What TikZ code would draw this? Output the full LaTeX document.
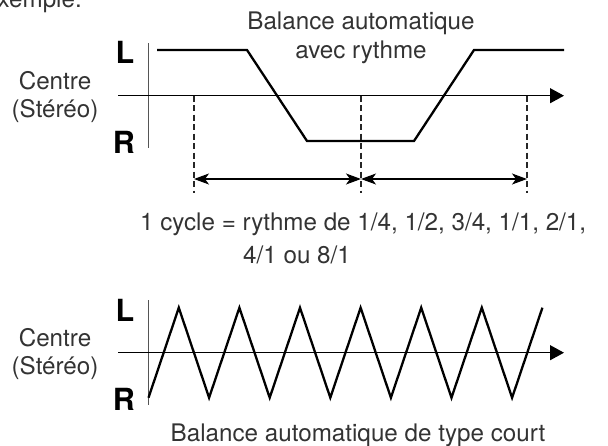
\documentclass[tikz,border=0pt]{standalone}
\usepackage{fontspec}
\setmainfont{TeX Gyre Heros}
\usetikzlibrary{arrows.meta}
\definecolor{txt}{HTML}{333333}
\definecolor{vax}{HTML}{555555}
\begin{document}
\begin{tikzpicture}[x=1pt,y=-1pt,
  lbl/.style={font=\fontsize{24.2}{28}\selectfont, text=txt, inner sep=0pt},
  lr/.style={font=\fontsize{30.5}{32}\selectfont\bfseries, inner sep=0pt},
  axis/.style={line width=1.2pt, -{Triangle[length=14pt,width=15pt]}},
  vaxis/.style={line width=1.5pt, draw=vax},
  sig/.style={line width=2.3pt, line join=miter},
  guide/.style={line width=1.3pt, draw=black!85, dash pattern=on 6pt off 3.5pt},
  span/.style={line width=1.2pt, {Stealth[length=15pt,width=11pt,inset=4pt]}-{Stealth[length=15pt,width=11pt,inset=4pt]}}]
\useasboundingbox (0,0) rectangle (608,445);

% ---------- top diagram ----------
\coordinate (ax1s) at (118,95.7);
\coordinate (ax1e) at (564,95.7);
\coordinate (v1t) at (148.3,43);
\coordinate (v1b) at (148.3,148);
\draw[vaxis] (v1t) -- (v1b);
\draw[axis] (ax1s) -- (ax1e);

\coordinate (s1) at (157,50);
\coordinate (s2) at (247,50);
\coordinate (s3) at (307,141);
\coordinate (s4) at (414,141);
\coordinate (s5) at (474,50);
\coordinate (s6) at (564,50);
\draw[sig] (s1) -- (s2) -- (s3) -- (s4) -- (s5) -- (s6);

\foreach \n/\x in {1/194,2/361,3/527}{
  \coordinate (d\n t) at (\x,95.7);
  \coordinate (d\n b) at (\x,193);
  \coordinate (a\n) at (\x,179);
  \draw[guide] (d\n t) -- (d\n b);
}
\draw[span] (a1) -- (a2);
\draw[span] (a2) -- (a3);

\node[lbl, anchor=base east] (ex) at (82,7) {Exemple:};
\node[lbl, anchor=base] (title1) at (361,29) {Balance automatique};
\node[lbl, anchor=base] (title2) at (361,58) {avec rythme};
\node[lr, anchor=base] (L1) at (125,63) {L};
\node[lr, anchor=base] (R1) at (124,153) {R};
\node[lbl, anchor=base] (c1) at (55,89.5) {Centre};
\node[lbl, anchor=base] (st1) at (55,117.5) {(Stéréo)};

\node[lbl, anchor=base west] (cyc1) at (140,230) {1 cycle = rythme de 1/4, 1/2, 3/4, 1/1, 2/1,};
\node[lbl, anchor=base west] (cyc2) at (243,263) {4/1 ou 8/1};

% ---------- bottom diagram ----------
\coordinate (ax2s) at (118,352.7);
\coordinate (ax2e) at (564,352.7);
\coordinate (v2t) at (148.3,300);
\coordinate (v2b) at (148.3,405);
\draw[vaxis] (v2t) -- (v2b);
\draw[axis] (ax2s) -- (ax2e);

\coordinate (w0) at (148.5,397.7);
\draw[sig] (w0) \foreach \i in {1,...,13}{ -- ({148.5+30.3*\i},{352.7+45*cos(180*\i)}) };

\node[lr, anchor=base] (L2) at (125,321) {L};
\node[lr, anchor=base] (R2) at (124,410) {R};
\node[lbl, anchor=base] (c2) at (55,346.7) {Centre};
\node[lbl, anchor=base] (st2) at (55,374.5) {(Stéréo)};
\node[lbl, anchor=base] (cap) at (358,441) {Balance automatique de type court};
\end{tikzpicture}
\end{document}
